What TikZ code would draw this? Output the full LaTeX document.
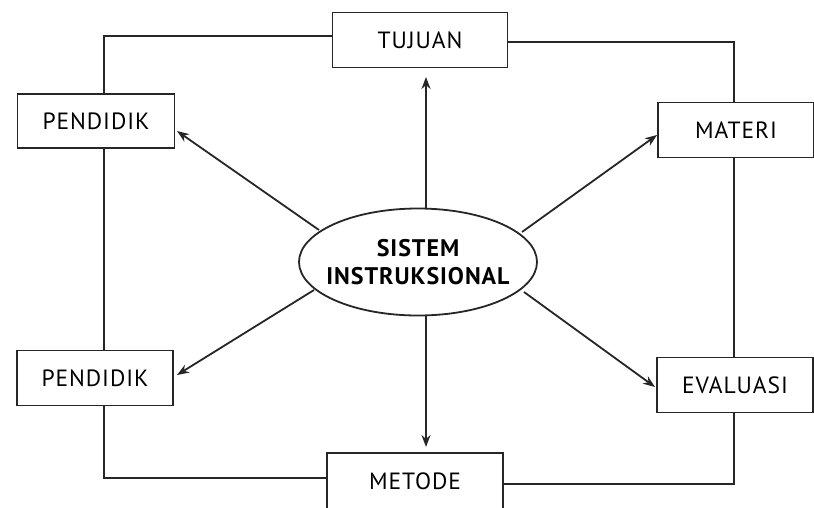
\documentclass[tikz,border=0pt]{standalone}
\usepackage{fontspec}
\setmainfont{PT Sans}[LetterSpace=4]
\usetikzlibrary{shapes.geometric,arrows.meta}
\begin{document}
\begin{tikzpicture}[x=1pt,y=-1pt,
  line width=1.8pt, draw=black!85,
  box/.style={draw, rectangle, inner sep=0pt, font=\fontsize{23.5}{26}\selectfont},
  arr/.style={-{Stealth[length=12pt,width=9pt]}}]
\useasboundingbox (0,0) rectangle (814,507);
\node[box, minimum width=175pt, minimum height=55pt] (tujuan) at (420,40) {TUJUAN};
\node[box, minimum width=157pt, minimum height=54pt] (pend1) at (96,121) {PENDIDIK};
\node[box, minimum width=156pt, minimum height=55pt] (materi) at (736,130) {MATERI};
\node[box, minimum width=156pt, minimum height=55pt] (pend2) at (95,378) {PENDIDIK};
\node[box, minimum width=156pt, minimum height=55pt] (evaluasi) at (735,385) {EVALUASI};
\node[box, minimum width=176pt, minimum height=56pt] (metode) at (415,481) {METODE};
\node[draw, ellipse, inner sep=0pt, minimum width=238pt, minimum height=107pt,
  align=center, font=\bfseries\fontsize{24}{28}\selectfont] (ell) at (418,262)
  {\makebox[0pt]{SISTEM}\\\makebox[0pt]{INSTRUKSIONAL}};
% frame
\coordinate (tl) at (104,36);
\coordinate (tr) at (734,42);
\coordinate (bl) at (104,478);
\coordinate (br) at (734,484);
\draw (pend1.north -| tl) -- (tl) -- (tl -| tujuan.west);
\draw (tujuan.east |- tr) -- (tr) -- (tr |- materi.north);
\draw (pend1.south -| tl) -- (pend2.north -| tl);
\draw (pend2.south -| bl) -- (bl) -- (bl -| metode.west);
\draw (materi.south -| tr) -- (evaluasi.north -| tr);
\draw (evaluasi.south -| br) -- (br) -- (br -| metode.east);
% arrows
\coordinate (aup) at (426,77);
\coordinate (adn) at (426,447);
\coordinate (aul) at (177,131);
\coordinate (all) at (177,375);
\coordinate (aur) at (657,135);
\coordinate (alr) at (655,387);
\draw[arr] (ell.north -| aup) -- (aup);
\draw[arr] (ell.south -| adn) -- (adn);
\draw[arr] (319,230) coordinate (sul) -- (aul);
\draw[arr] (314,290) coordinate (sll) -- (all);
\draw[arr] (522,232) coordinate (sur) -- (aur);
\draw[arr] (524,292) coordinate (slr) -- (alr);
\end{tikzpicture}
\end{document}
